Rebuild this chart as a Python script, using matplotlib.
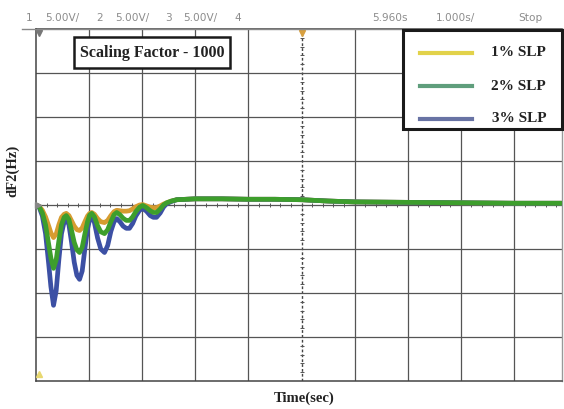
import numpy as np
import matplotlib.pyplot as plt
from matplotlib.lines import Line2D
from matplotlib.patches import Rectangle

# frequency deviation after the load step
# time in s (1 s/div), dF2 in screen divisions
t_trace = [0.00, 0.06, 0.12, 0.18, 0.24, 0.28, 0.33, 0.38, 0.43, 0.48, 0.53, 0.57,
           0.62, 0.67, 0.72, 0.77, 0.82, 0.87, 0.92, 0.97, 1.01, 1.05, 1.10, 1.16,
           1.22, 1.29, 1.35, 1.41, 1.47, 1.52, 1.58, 1.64, 1.70, 1.76, 1.82, 1.88,
           1.95, 2.01, 2.08, 2.15, 2.21, 2.27, 2.34, 2.40, 2.46, 2.55, 2.65,
           3.0, 3.5, 4.0, 4.5, 5.0, 5.5, 6.0, 7.0, 8.0, 9.0, 9.9]

v_1pct = [0.00, -0.03, -0.12, -0.27, -0.48, -0.63, -0.74, -0.66, -0.45, -0.28, -0.21, -0.19,
          -0.24, -0.36, -0.48, -0.56, -0.58, -0.52, -0.38, -0.25, -0.19, -0.17, -0.21, -0.31,
          -0.38, -0.40, -0.35, -0.24, -0.15, -0.12, -0.13, -0.14, -0.14, -0.13, -0.09, -0.04,
          0.00, 0.01, -0.02, -0.05, -0.06, -0.06, -0.02, 0.02, 0.05, 0.09, 0.12,
          0.14, 0.14, 0.13, 0.13, 0.12, 0.09, 0.07, 0.06, 0.05, 0.04, 0.04]

v_2pct = [0.00, -0.04, -0.18, -0.45, -0.90, -1.20, -1.44, -1.25, -0.82, -0.45, -0.28, -0.24,
          -0.33, -0.58, -0.85, -1.02, -1.08, -0.96, -0.66, -0.38, -0.23, -0.19, -0.27, -0.47,
          -0.61, -0.65, -0.56, -0.38, -0.22, -0.17, -0.22, -0.30, -0.35, -0.35, -0.27, -0.15,
          -0.05, -0.01, -0.06, -0.13, -0.17, -0.17, -0.09, 0.00, 0.05, 0.09, 0.12,
          0.14, 0.14, 0.13, 0.13, 0.12, 0.09, 0.07, 0.06, 0.05, 0.04, 0.04]

v_3pct = [0.00, -0.05, -0.25, -0.65, -1.35, -1.85, -2.28, -1.95, -1.25, -0.65, -0.38, -0.31,
          -0.45, -0.85, -1.30, -1.60, -1.69, -1.50, -1.00, -0.55, -0.33, -0.26, -0.40, -0.75,
          -1.00, -1.08, -0.92, -0.60, -0.38, -0.31, -0.38, -0.48, -0.53, -0.53, -0.42, -0.25,
          -0.12, -0.08, -0.14, -0.24, -0.28, -0.28, -0.18, -0.05, 0.03, 0.08, 0.12,
          0.14, 0.14, 0.13, 0.13, 0.12, 0.09, 0.07, 0.06, 0.05, 0.04, 0.04]

labels = ['1% SLP', '2% SLP', '3% SLP']
trace_colors = ['#d69c30', '#3d9e2c', '#3c50a4']
legend_colors = ['#e2d24a', '#5f9e7c', '#6873a4']

header_left = [('1', 26), ('5.00V/', 45), ('2', 96), ('5.00V/', 115),
               ('3', 165), ('5.00V/', 183), ('4', 234)]
header_right = [('5.960s', 372), ('1.000s/', 436), ('Stop', 518)]

W, H = 564, 409
fig = plt.figure(figsize=(W / 100, H / 100), dpi=100)
x0, x1, y0, y1 = 36, 562, 29, 381
ax = fig.add_axes([x0 / W, 1 - y1 / H, (x1 - x0) / W, (y1 - y0) / H])

div_px = 53.1
ax.set_xlim(0, (x1 - x0) / div_px)
ax.set_ylim(-4, 4)

grid_c = '#555555'
for t in range(1, 10):
    if t == 5:
        ax.axvline(t, color='#444444', lw=1.0, ls=(0, (2, 1.5)), zorder=1)
    else:
        ax.axvline(t, color=grid_c, lw=0.9, zorder=1)
for v in range(-3, 4):
    ax.axhline(v, color=grid_c, lw=0.9, zorder=1)

# minor division ticks along the centre lines
minor_t = np.arange(0.2, 9.9, 0.2)
ax.plot(minor_t, np.zeros_like(minor_t), ls='none', marker='|', ms=3, color=grid_c, mew=0.7, zorder=1)
minor_v = np.arange(-3.8, 4.0, 0.2)
ax.plot(np.full_like(minor_v, 5.0), minor_v, ls='none', marker='_', ms=3, color=grid_c, mew=0.7, zorder=1)

for s in ['left', 'bottom', 'top']:
    ax.spines[s].set_color('#444444')
    ax.spines[s].set_linewidth(1.1)
ax.spines['right'].set_color('#999999')
ax.spines['right'].set_linewidth(1.0)
ax.set_xticks([])
ax.set_yticks([])

for v, c in [(v_1pct, trace_colors[0]), (v_3pct, trace_colors[2]), (v_2pct, trace_colors[1])]:
    ax.plot(t_trace, v, color=c, lw=3.4, solid_joinstyle='round', solid_capstyle='round', zorder=3)

# channel / trigger markers
ax.plot([0.03], [0.0], marker='>', ms=4, color='#888888', clip_on=False, zorder=4)
ax.plot([0.05], [-3.85], marker='^', ms=4, color='#e8d870', clip_on=False, zorder=4)
ax.plot([0.05], [3.9], marker='v', ms=4, color='#777777', clip_on=False, zorder=4)
ax.plot([5.0], [3.9], marker='v', ms=4, color='#d8a040', clip_on=False, zorder=4)


def px_box(left, top, right, bottom, lw):
    return Rectangle((left / W, 1 - bottom / H), (right - left) / W, (bottom - top) / H,
                     transform=fig.transFigure, fc='white', ec='#1a1a1a', lw=lw, zorder=6)


serif = dict(family='Liberation Serif', fontweight='bold', color='#222222')

# scaling factor note
fig.add_artist(px_box(74, 37, 230, 68, 1.8))
fig.text(152 / W, 1 - 53 / H, 'Scaling Factor - 1000', fontsize=11.5,
         ha='center', va='center', zorder=7, **serif)

# legend box
fig.add_artist(px_box(403, 30, 562, 129, 2.2))
for i, (lab, c) in enumerate(zip(labels, legend_colors)):
    yy = 1 - (53 + 33 * i) / H
    fig.add_artist(Line2D([420 / W, 472 / W], [yy, yy], color=c, lw=3, zorder=7))
    fig.text(546 / W, yy, lab, fontsize=11, ha='right', va='center', zorder=7, **serif)

# header strip above the graticule
fig.add_artist(Line2D([22 / W, 1.0], [1 - 28.5 / H, 1 - 28.5 / H], color='#888888', lw=1.0))
for txt, px in header_left + header_right:
    fig.text(px / W, 1 - 18 / H, txt, fontsize=7.6, color='#8c8c8c', ha='left', va='center')

fig.text(13 / W, 1 - 171 / H, 'dF2(Hz)', rotation=90, fontsize=10.5,
         ha='center', va='center', **serif)
fig.text(304 / W, 1 - 398 / H, 'Time(sec)', fontsize=10.5,
         ha='center', va='center', **serif)

fig.savefig('out.png', dpi=100)
